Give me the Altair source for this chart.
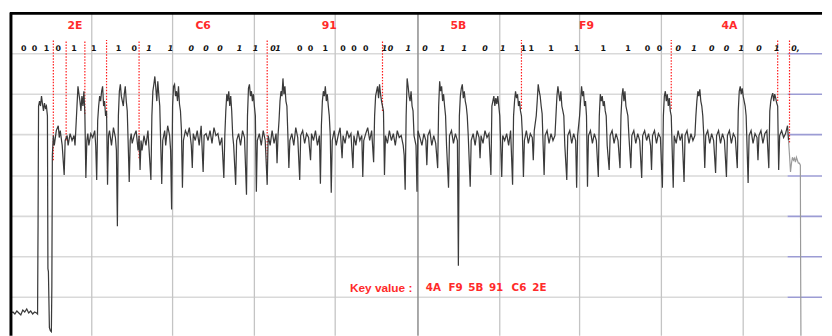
import altair as alt
import pandas as pd

# ---- trace (sample index, amplitude) ----
trace_t = [9, 11, 13, 15, 17, 19, 21, 23, 25, 27, 29, 31, 33, 35, 36,
           36.5, 37, 38, 39, 40, 41, 42, 43, 44, 45, 46, 46.5, 47, 48, 49, 50, 50.5, 51, 52,
           53, 55, 57, 58, 59, 61, 63, 64, 66, 67, 69, 71, 73, 74,
           75, 76, 77, 78, 79, 80, 81, 82, 83, 84, 85, 86, 87, 88, 90, 92, 94, 95, 96, 97,
           98, 99, 100, 101, 102, 103, 104, 105, 106, 107, 108, 109, 111, 113, 115, 116, 117,
           118, 119, 120, 121, 122, 123, 124, 125, 126, 127, 128, 129, 130, 131, 132, 134, 136,
           138, 139, 140, 141, 142, 144, 146, 148, 151, 152, 153, 154, 155, 156, 157, 158, 159,
           160, 161, 162, 163, 165, 166, 168, 170, 171, 172, 173, 174, 175, 176, 177, 178, 179,
           180, 181, 182, 183, 184, 186, 188, 190, 192, 193, 194, 196, 198, 200, 202, 204, 205,
           207, 209, 211, 213, 215, 217, 219, 221, 223, 225, 226, 227, 228, 229, 230, 231, 232,
           233, 234, 235, 237, 238, 240, 242, 244, 246, 248, 249, 250, 251, 252, 253, 254, 255,
           256, 257, 258, 259, 261, 263, 265, 267, 269, 270, 272, 274, 276, 278, 279, 280, 281,
           282, 283, 284, 285, 286, 287, 288, 289, 290, 291, 292, 294, 296, 298, 300, 302, 303,
           305, 307, 309, 311, 313, 314, 316, 318, 320, 322, 323, 324, 325, 326, 327, 328, 329,
           330, 331, 332, 333, 334, 335, 337, 339, 341, 343, 345, 346, 348, 350, 352, 354, 356,
           357, 359, 361, 363, 365, 366, 367, 369, 371, 373, 375, 377, 378, 379, 380, 381, 382,
           383, 384, 385, 386, 387, 388, 389, 391, 393, 395, 397, 399, 401, 403, 405, 407, 408,
           409, 410, 411, 412, 413, 414, 415, 416, 417, 418, 420, 421, 422, 424, 426, 428, 430,
           431, 432, 434, 436, 438, 440, 442, 443, 444, 445, 446, 447, 448, 449, 450, 451, 453,
           454, 456, 458, 460, 462, 463, 464, 465, 466, 467, 468, 469, 470, 471, 472, 473, 475,
           476, 478, 480, 482, 484, 485, 486, 488, 490, 492, 494, 496, 497, 498, 499, 500, 501,
           502, 503, 504, 505, 507, 508, 510, 512, 514, 516, 518, 519, 520, 521, 522, 523, 524,
           525, 526, 527, 528, 529, 530, 532, 534, 536, 538, 539, 540, 542, 543, 544, 545, 546,
           547, 548, 549, 550, 551, 553, 555, 557, 559, 561, 562, 563, 564, 565, 566, 567, 568,
           569, 570, 571, 573, 574, 576, 578, 580, 582, 583, 584, 586, 587, 588, 589, 590, 591,
           592, 593, 594, 595, 597, 599, 601, 603, 605, 606, 607, 608, 609, 610, 611, 612, 613,
           614, 616, 617, 619, 621, 623, 625, 627, 628, 629, 630, 631, 632, 633, 634, 635, 636,
           638, 639, 641, 643, 645, 647, 649, 650, 652, 654, 656, 658, 659, 660, 662, 664, 666,
           668, 670, 671, 672, 673, 674, 675, 676, 677, 678, 679, 681, 682, 684, 686, 688, 690,
           692, 693, 695, 697, 699, 701, 703, 704, 705, 706, 707, 708, 709, 710, 711, 712, 713,
           714, 716, 718, 720, 722, 724, 725, 727, 729, 731, 733, 735, 736, 738, 740, 742, 744,
           746, 747, 748, 749, 750, 751, 752, 753, 754, 755, 757, 758, 760, 762, 764, 766, 767,
           768, 770, 772, 774, 776, 778, 779, 780, 781, 782, 783, 784, 785, 786, 787, 788, 789,
           791, 793, 795, 797, 798]
trace_a = [25, 26, 24, 27, 25, 23, 28, 26, 29, 25, 27, 24, 26, 25, 24,
           115, 235, 240, 235, 245, 237, 230, 238, 233, 235, 225, 70, 67, 10, 7, 6, 52, 185, 205,
           195, 210, 215, 203, 210, 195, 165, 200, 205, 195, 207, 200, 205, 195,
           215, 235, 255, 247, 240, 230, 245, 235, 250, 227, 162, 200, 207, 195, 207, 203, 210, 195, 160, 220,
           235, 245, 240, 250, 255, 235, 240, 225, 230, 155, 205, 210, 195, 213, 203, 190, 113,
           225, 250, 257, 245, 240, 235, 247, 255, 240, 230, 195, 158, 200, 207, 197, 205, 210,
           190, 205, 170, 200, 190, 205, 195, 210, 160, 225, 250, 257, 265, 253, 240, 260, 247,
           235, 195, 156, 200, 210, 195, 215, 205, 190, 130, 235, 255, 257, 245, 250, 240, 255,
           237, 230, 210, 152, 200, 210, 205, 213, 195, 172, 207, 200, 210, 195, 215, 168, 205,
           207, 200, 210, 197, 213, 205, 207, 195, 203, 162, 205, 230, 247, 240, 250, 235, 245,
           230, 205, 195, 155, 200, 207, 195, 210, 203, 145, 225, 253, 257, 245, 250, 240, 247,
           235, 225, 148, 200, 207, 195, 210, 200, 155, 205, 195, 210, 197, 207, 177, 205, 220,
           240, 250, 245, 263, 247, 255, 240, 235, 205, 172, 200, 207, 195, 213, 203, 160, 205,
           210, 197, 207, 203, 180, 207, 200, 210, 195, 205, 156, 215, 240, 250, 245, 255, 240,
           247, 235, 225, 205, 147, 200, 210, 195, 205, 213, 182, 205, 197, 210, 203, 207, 172,
           205, 195, 210, 200, 205, 163, 200, 207, 213, 200, 210, 178, 225, 245, 250, 255, 243,
           257, 247, 240, 235, 230, 165, 205, 197, 210, 200, 207, 195, 210, 203, 205, 195, 185,
           150, 225, 263, 255, 245, 240, 250, 235, 230, 205, 195, 148, 210, 203, 195, 207, 200,
           175, 205, 210, 195, 205, 197, 172, 235, 260, 250, 255, 240, 247, 235, 225, 195, 152,
           205, 210, 197, 207, 200, 73, 225, 245, 253, 257, 243, 250, 240, 235, 225, 205, 153,
           200, 207, 195, 210, 203, 182, 205, 197, 210, 203, 207, 165, 235, 240, 245, 235, 243,
           237, 245, 235, 225, 163, 205, 200, 207, 195, 210, 155, 225, 240, 250, 243, 247, 235,
           240, 230, 225, 205, 163, 200, 210, 197, 207, 203, 180, 210, 225, 240, 257, 250, 245,
           235, 227, 195, 165, 205, 210, 197, 207, 200, 205, 225, 245, 255, 247, 240, 250, 235,
           230, 225, 195, 160, 205, 210, 197, 207, 200, 152, 205, 225, 240, 255, 245, 250, 235,
           240, 225, 153, 205, 210, 197, 207, 200, 163, 225, 247, 240, 245, 235, 240, 230, 225,
           195, 170, 205, 210, 197, 207, 200, 172, 225, 245, 253, 240, 250, 235, 230, 225, 205,
           172, 205, 210, 197, 207, 200, 162, 205, 210, 200, 207, 195, 170, 205, 210, 197, 207,
           203, 152, 225, 245, 250, 240, 247, 235, 243, 230, 225, 152, 205, 197, 210, 200, 207,
           158, 205, 210, 197, 207, 200, 205, 225, 240, 250, 245, 252, 240, 235, 225, 205, 172,
           205, 210, 197, 207, 200, 167, 205, 210, 197, 207, 200, 163, 205, 210, 197, 207, 203,
           172, 230, 250, 255, 247, 253, 245, 240, 235, 225, 157, 205, 210, 197, 207, 203, 180,
           205, 210, 197, 207, 210, 172, 230, 240, 245, 248, 240, 247, 243, 238, 235, 170, 205,
           210, 203, 207, 215, 200]

# lighter tail after the last marker
tail_t = [798, 799, 800, 801, 802, 803, 804, 805, 806, 807, 808, 809, 810, 810.3, 810.6]
tail_a = [200, 185, 168, 177, 183, 180, 182, 178, 183, 180, 177, 177, 175, 72, -1]

# ---- grid ----
grid_levels = [41, 82, 123, 164, 206, 247, 288]
vgrid_t = [91, 173, 256, 338, 505, 586, 669, 752]
vgrid_major_t = [422]

# ---- red bit-boundary markers ----
marker_t = [52, 65, 84, 106, 139, 269, 386, 527, 679, 787, 799]
marker_low = [180, 200, 227, 223, 182, 177, 230, 232, 232, 240, 198]
marker_high = 302

# ---- labels ----
hex_labels = ["2E", "C6", "91", "5B", "F9", "4A"]
hex_t = [74, 204, 332, 463, 593, 738]

bit_t = [22, 33, 45, 57, 73, 93, 118, 134, 149, 171, 192, 207, 221, 241, 257, 275,
         280, 302, 313, 328, 346, 357, 369, 388, 394, 412, 429, 447, 469, 490, 508, 529,
         537, 557, 583, 610, 635, 655, 667, 686, 702, 720, 735, 750, 768, 786, 805]
bit_labels = ["0", "0", "1", "0", "1", "1", "1", "0", "1", "1", "0", "0", "0", "1", "1", "0",
              "1", "0", "0", "1", "0", "0", "0", "1", "0", "1", "0", "1", "1", "0", "1", "1",
              "1", "1", "1", "1", "1", "0", "0", "0", "1", "0", "0", "1", "0", "1", "0,"]
bit_italic = [0, 0, 0, 0, 0, 0, 0, 0, 1, 1, 1, 1, 1, 1, 1, 1,
              1, 0, 0, 0, 0, 0, 0, 1, 1, 1, 1, 1, 1, 1, 1, 0,
              0, 0, 0, 0, 0, 0, 0, 1, 1, 1, 1, 1, 1, 1, 1]
bit_level = 293
hex_level = 316

key_title = ["Key value :"]
key_title_t = [353]
key_words = ["4A", "F9", "5B", "91", "C6", "2E"]
key_t = [430, 453, 473, 494, 517, 538]
key_level = 50

# ---- build ----
X_DOM = [8, 832]
Y_DOM = [2, 330]
xs = alt.Scale(domain=X_DOM, nice=False, zero=False)
ys = alt.Scale(domain=Y_DOM, nice=False, zero=False)

trace_df = pd.DataFrame({"t": trace_t, "a": trace_a, "i": range(len(trace_t))})
tail_df = pd.DataFrame({"t": tail_t, "a": tail_a, "i": range(len(tail_t))})

hgrid_df = pd.DataFrame({"a": grid_levels, "t1": [10] * len(grid_levels), "t2": [797] * len(grid_levels)})
hblue_df = pd.DataFrame({"a": grid_levels + [0], "t1": [797] * (len(grid_levels) + 1), "t2": [832] * (len(grid_levels) + 1)})
vgrid_df = pd.DataFrame({"t": vgrid_t, "a1": [Y_DOM[0]] * len(vgrid_t), "a2": [Y_DOM[1]] * len(vgrid_t)})
vmaj_df = pd.DataFrame({"t": vgrid_major_t, "a1": [Y_DOM[0]], "a2": [Y_DOM[1]]})
marker_df = pd.DataFrame({"t": marker_t, "a1": marker_low, "a2": [marker_high] * len(marker_t)})
hex_df = pd.DataFrame({"t": hex_t, "a": [hex_level] * len(hex_t), "txt": hex_labels})
bits_df = pd.DataFrame({"t": bit_t, "txt": bit_labels, "it": bit_italic, "a": [bit_level] * len(bit_t)})
keyt_df = pd.DataFrame({"t": key_title_t, "txt": key_title, "a": [key_level]})
key_df = pd.DataFrame({"t": key_t, "txt": key_words, "a": [key_level] * len(key_t)})

X = lambda f: alt.X(f, scale=xs, axis=None)
Y = lambda f: alt.Y(f, scale=ys, axis=None)

hgrid = alt.Chart(hgrid_df).mark_rule(color="#d9d9d9", strokeWidth=1.6).encode(
    x=X("t1:Q"), x2="t2:Q", y=Y("a:Q"))
hblue = alt.Chart(hblue_df).mark_rule(color="#9c9cd4", strokeWidth=1.6).encode(
    x=X("t1:Q"), x2="t2:Q", y=Y("a:Q"))
vgrid = alt.Chart(vgrid_df).mark_rule(color="#c4c4c4", strokeWidth=1.3).encode(
    x=X("t:Q"), y=Y("a1:Q"), y2="a2:Q")
vmaj = alt.Chart(vmaj_df).mark_rule(color="#8c8c8c", strokeWidth=1.5).encode(
    x=X("t:Q"), y=Y("a1:Q"), y2="a2:Q")

trace = alt.Chart(trace_df).mark_line(color="#3a3a3a", strokeWidth=1.25, clip=True).encode(
    x=X("t:Q"), y=Y("a:Q"), order="i:Q")
tail = alt.Chart(tail_df).mark_line(color="#9a9a9a", strokeWidth=1.2, clip=True).encode(
    x=X("t:Q"), y=Y("a:Q"), order="i:Q")

markers = alt.Chart(marker_df).mark_rule(color="#ff1a1a", strokeWidth=1.2, strokeDash=[1.5, 1.5]).encode(
    x=X("t:Q"), y=Y("a1:Q"), y2="a2:Q")

hex_text = alt.Chart(hex_df).mark_text(color="#ff2a2a", fontSize=11, fontWeight="bold",
                                       font="DejaVu Sans", align="center", baseline="middle").encode(
    x=X("t:Q"), y=Y("a:Q"), text="txt:N")

bits_up = alt.Chart(bits_df).transform_filter("datum.it == 0").mark_text(
    color="#111111", fontSize=8, fontWeight="bold", font="DejaVu Sans",
    align="center", baseline="middle").encode(x=X("t:Q"), y=Y("a:Q"), text="txt:N")
bits_it = alt.Chart(bits_df).transform_filter("datum.it == 1").mark_text(
    color="#111111", fontSize=8, fontWeight="bold", fontStyle="italic", font="DejaVu Sans",
    align="center", baseline="middle").encode(x=X("t:Q"), y=Y("a:Q"), text="txt:N")

key_title_text = alt.Chart(keyt_df).mark_text(color="#ff2a2a", fontSize=12, fontWeight="bold",
                                              font="Liberation Sans", align="left", baseline="middle").encode(
    x=X("t:Q"), y=Y("a:Q"), text="txt:N")
key_text = alt.Chart(key_df).mark_text(color="#ff2a2a", fontSize=10.5, fontWeight="bold",
                                       font="DejaVu Sans", align="left", baseline="middle").encode(
    x=X("t:Q"), y=Y("a:Q"), text="txt:N")

top_border = alt.Chart(pd.DataFrame({"t1": [8], "t2": [832], "a": [329]})).mark_rule(
    color="#000000", strokeWidth=3).encode(x=X("t1:Q"), x2="t2:Q", y=Y("a:Q"))
left_border = alt.Chart(pd.DataFrame({"t": [9], "a1": [Y_DOM[0]], "a2": [Y_DOM[1]]})).mark_rule(
    color="#000000", strokeWidth=3).encode(x=X("t:Q"), y=Y("a1:Q"), y2="a2:Q")

chart = alt.layer(
    hgrid, hblue, vgrid, vmaj, markers, trace, tail, hex_text, bits_up, bits_it,
    key_title_text, key_text, top_border, left_border
).properties(width=824, height=328, padding=0, background="#ffffff").configure_view(stroke=None)

chart.save("out.html", embed_options={"renderer": "svg", "actions": False})
